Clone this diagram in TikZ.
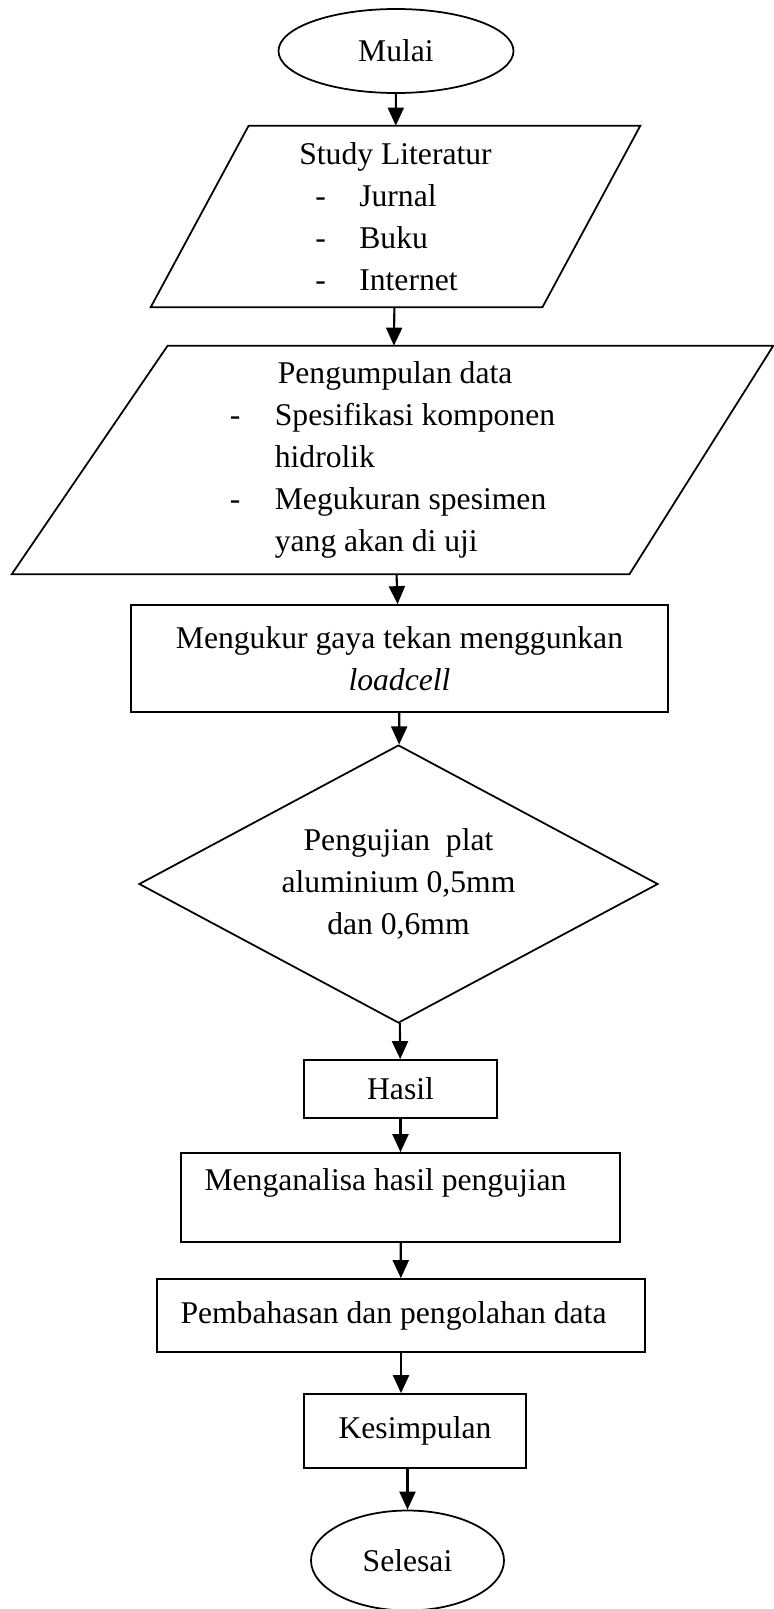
\documentclass[tikz,border=0pt]{standalone}
\usepackage{fontspec}
\setmainfont{Liberation Serif}
\usepackage{tikz}
\usetikzlibrary{positioning,arrows.meta,shapes.geometric}

\begin{document}
\begin{tikzpicture}[
    >={Triangle[length=0.36cm, width=0.32cm]},
    every node/.style={font=\fontsize{18}{24}\selectfont},
    terminal/.style={draw, ellipse, line width=1pt, inner sep=0pt},
    iobox/.style={inner sep=0pt, align=left},
    outline/.style={line width=1pt, line join=miter},
    procbox/.style={draw, rectangle, line width=1pt, inner sep=0pt, align=center},
    decision/.style={draw, diamond, aspect=1.87, line width=1pt, inner sep=0pt, align=center},
    flow/.style={->, line width=1.2pt}
  ]
  \useasboundingbox (0,0) rectangle (15.46,-32.18);

  \node[terminal, minimum width=4.70cm, minimum height=1.68cm] (mulai) at (7.92,-1.02) {Mulai};

  \node[iobox, minimum width=9.78cm, minimum height=3.62cm] (study) at (7.91,-4.33)
    {Study Literatur\\
     \hspace*{0.32cm}-\hspace{0.67cm}Jurnal\\
     \hspace*{0.32cm}-\hspace{0.67cm}Buku\\
     \hspace*{0.32cm}-\hspace{0.67cm}Internet};
  \draw[outline] ([xshift=1.96cm]study.north west) -- (study.north east)
    -- ([xshift=-1.96cm]study.south east) -- (study.south west) -- cycle;

  \node[iobox, minimum width=15.22cm, minimum height=4.56cm] (peng) at (7.85,-9.20)
    {\hspace*{0.96cm}Pengumpulan data\\
     -\hspace{0.69cm}Spesifikasi komponen\\
     \hspace*{0.9cm}hidrolik\\
     -\hspace{0.69cm}Megukuran spesimen\\
     \hspace*{0.9cm}yang akan di uji};
  \draw[outline] ([xshift=3.12cm]peng.north west) -- (peng.north east)
    -- ([xshift=-2.88cm]peng.south east) -- (peng.south west) -- cycle;

  \node[procbox, minimum width=10.74cm, minimum height=2.14cm] (meng) at (7.99,-13.17)
    {Mengukur gaya tekan menggunkan\\\textit{loadcell}};

  \node[decision, minimum width=10.38cm, minimum height=5.56cm] (uji) at (7.97,-17.68)
    {Pengujian\ \ plat\\aluminium 0,5mm\\dan 0,6mm};

  \node[procbox, minimum width=3.86cm, minimum height=1.16cm] (hasil) at (8.01,-21.78) {Hasil};

  \node[procbox, minimum width=8.78cm, minimum height=1.78cm] (analisa) at (8.01,-23.95)
    {Menganalisa hasil pengujian\hspace*{0.6cm}\\[-0.12cm]\mbox{}};

  \node[procbox, minimum width=9.76cm, minimum height=1.46cm] (bahas) at (8.02,-26.31)
    {Pembahasan dan pengolahan data\hspace*{0.3cm}};

  \node[procbox, minimum width=4.44cm, minimum height=1.48cm] (simpul) at (8.30,-28.62) {Kesimpulan};

  \node[terminal, minimum width=3.86cm, minimum height=2.0cm] (selesai) at (8.15,-31.21) {Selesai};

  % alur
  \draw[flow] (mulai) -- (study);
  \draw[flow] (study) -- (peng);
  \draw[flow] (peng) -- (meng);
  \draw[flow] (meng) -- (uji);
  \draw[flow] (uji) -- (hasil);
  \draw[flow] (hasil) -- (analisa);
  \draw[flow] (analisa) -- (bahas);
  \draw[flow] (bahas.south) -- (bahas.south |- simpul.north);
  \draw[flow] (simpul.south -| selesai.north) -- (selesai.north);
\end{tikzpicture}
\end{document}
